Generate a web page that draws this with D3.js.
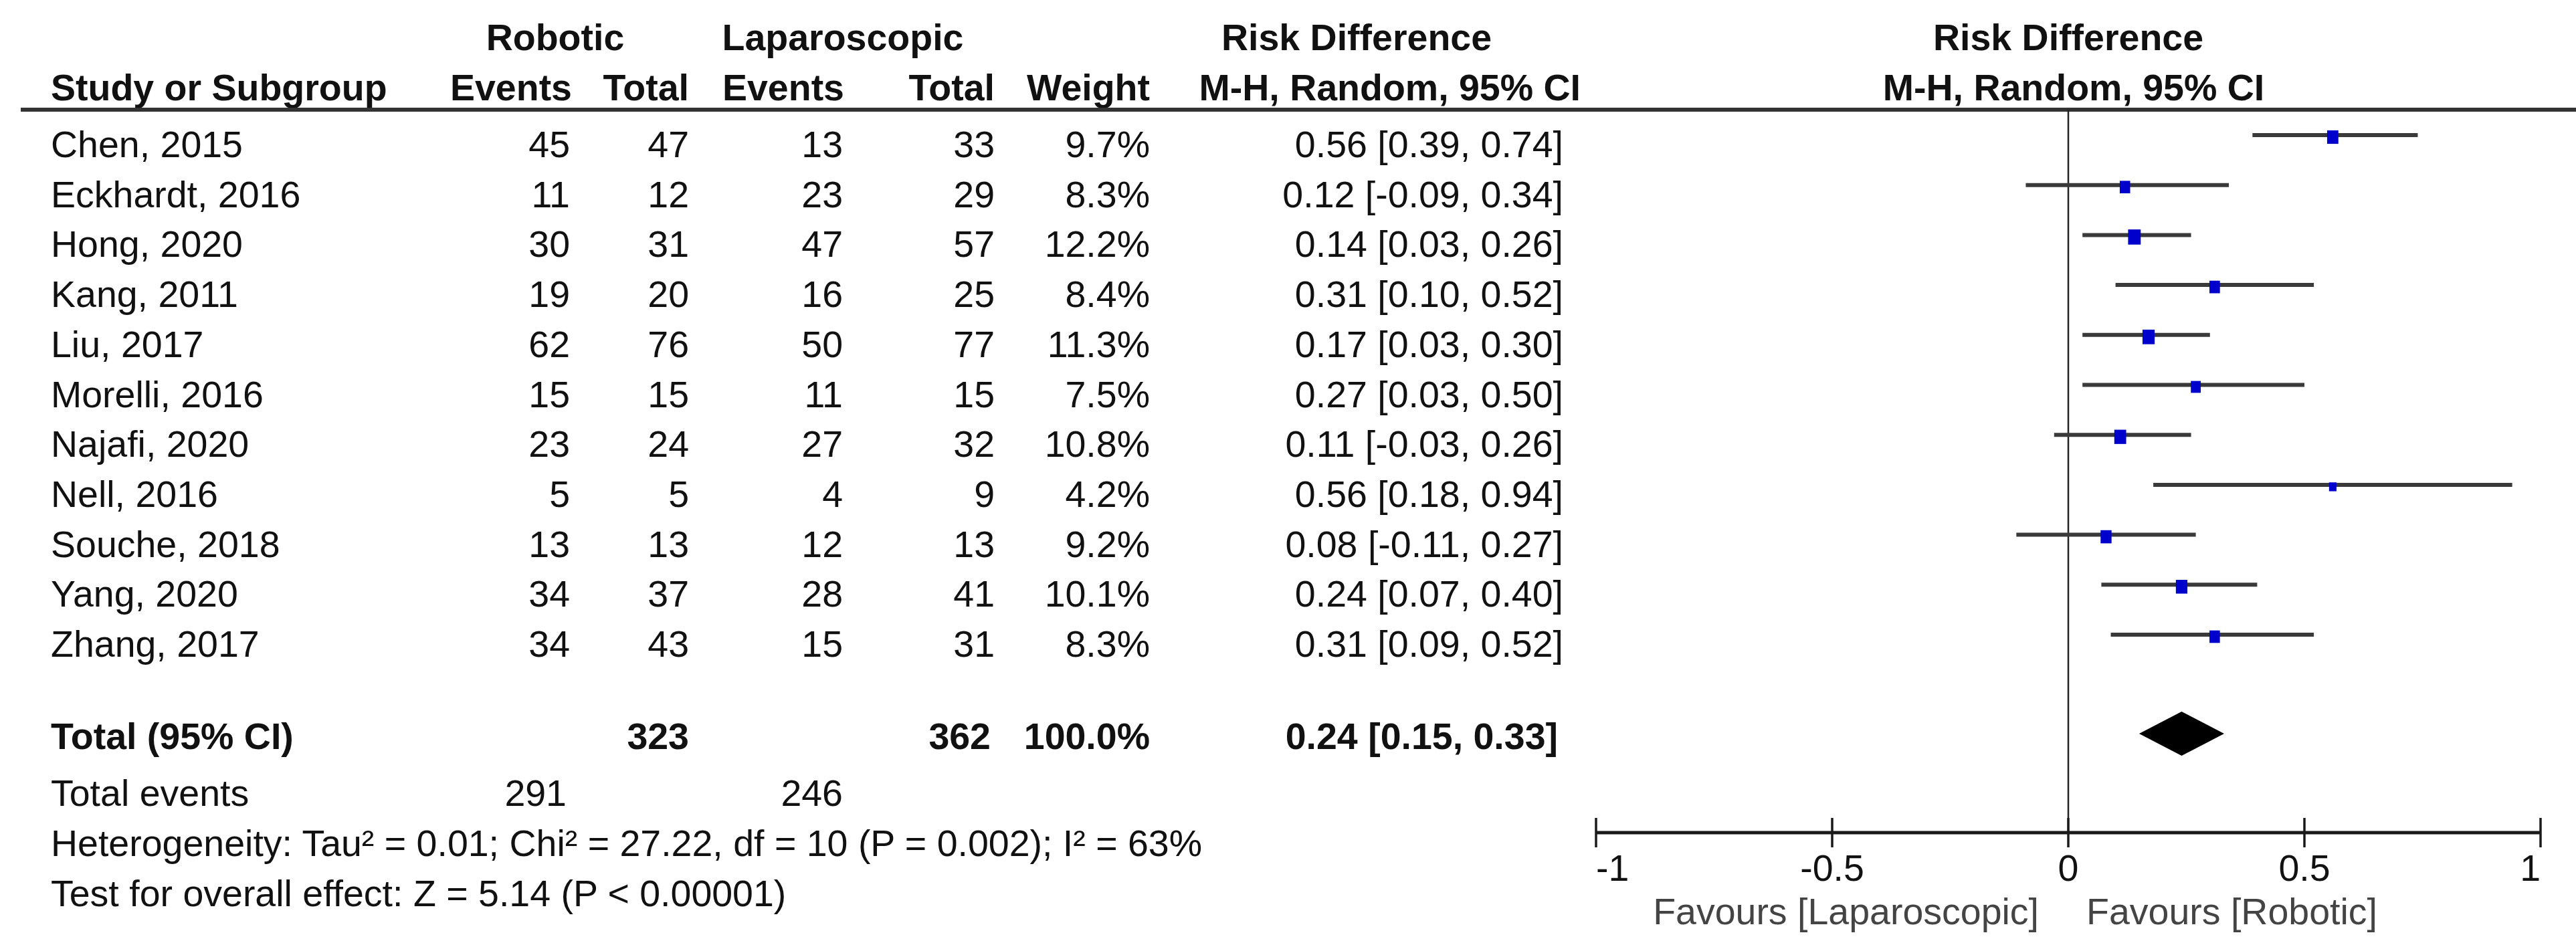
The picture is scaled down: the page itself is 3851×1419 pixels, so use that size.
<!DOCTYPE html>
<html lang="en">
<head>
  <meta charset="UTF-8" />
  <title>Forest plot: Robotic vs Laparoscopic</title>
  <style>
    html, body { margin: 0; padding: 0; background: #fff; }
    svg { display: block; }
    text { font-family: "Liberation Sans", Arial, sans-serif; font-size: 55.5px; fill: #111; }
    .bold { font-weight: bold; }
    .favours { fill: #444; }
  </style>
</head>
<body>
  <svg></svg>
  <script src="https://d3js.org/d3.v7.min.js"></script>
  <script>
    // study data
    const studies   = ["Chen, 2015", "Eckhardt, 2016", "Hong, 2020", "Kang, 2011", "Liu, 2017", "Morelli, 2016",
                       "Najafi, 2020", "Nell, 2016", "Souche, 2018", "Yang, 2020", "Zhang, 2017"];
    const robEvents = [45, 11, 30, 19, 62, 15, 23, 5, 13, 34, 34];
    const robTotal  = [47, 12, 31, 20, 76, 15, 24, 5, 13, 37, 43];
    const lapEvents = [13, 23, 47, 16, 50, 11, 27, 4, 12, 28, 15];
    const lapTotal  = [33, 29, 57, 25, 77, 15, 32, 9, 13, 41, 31];
    const weights   = [9.7, 8.3, 12.2, 8.4, 11.3, 7.5, 10.8, 4.2, 9.2, 10.1, 8.3];
    const rd        = [0.56, 0.12, 0.14, 0.31, 0.17, 0.27, 0.11, 0.56, 0.08, 0.24, 0.31];
    const ciLow     = [0.39, -0.09, 0.03, 0.10, 0.03, 0.03, -0.03, 0.18, -0.11, 0.07, 0.09];
    const ciHigh    = [0.74, 0.34, 0.26, 0.52, 0.30, 0.50, 0.26, 0.94, 0.27, 0.40, 0.52];

    // pooled result
    const pooled = { rd: 0.24, lo: 0.15, hi: 0.33, robTotal: 323, lapTotal: 362, robEvents: 291, lapEvents: 246 };
    const axisTicks = [-1, -0.5, 0, 0.5, 1];
    const heterogeneity = "Heterogeneity: Tau\u00B2 = 0.01; Chi\u00B2 = 27.22, df = 10 (P = 0.002); I\u00B2 = 63%";
    const overallEffect = "Test for overall effect: Z = 5.14 (P < 0.00001)";

    const W = 3851, H = 1419;
    const svg = d3.select("svg").attr("width", W).attr("height", H);

    // plain hyphen as in RevMan output
    const f2 = v => v.toFixed(2);
    const ciText = (m, l, h) => `${f2(m)} [${f2(l)}, ${f2(h)}]`;

    // columns (right edges, in px)
    const col = { study: 76, rEv: 852, rTot: 1030, lEv: 1260, lTot: 1487, wt: 1719, ci: 2337 };

    // rows
    const idx = d3.range(studies.length);
    const rowY = d3.scaleLinear().domain([0, studies.length - 1]).range([235, 982]);

    const x = d3.scaleLinear().domain([-1, 1]).range([2386, 3798]);

    // header
    const head = svg.append("g");
    const hdr = (t, xx, y, anchor) => head.append("text").attr("class", "bold")
      .attr("x", xx).attr("y", y).attr("text-anchor", anchor).text(t);
    hdr("Robotic", 830, 75, "middle");
    hdr("Laparoscopic", 1260, 75, "middle");
    hdr("Risk Difference", 2028, 75, "middle");
    hdr("Risk Difference", 3092, 75, "middle");
    hdr("Study or Subgroup", col.study, 150, "start");
    hdr("Events", col.rEv + 3, 150, "end");
    hdr("Total", col.rTot, 150, "end");
    hdr("Events", col.lEv + 2, 150, "end");
    hdr("Total", col.lTot, 150, "end");
    hdr("Weight", col.wt, 150, "end");
    hdr("M-H, Random, 95% CI", 2363, 150, "end");
    hdr("M-H, Random, 95% CI", 3100, 150, "middle");

    svg.append("line")
      .attr("x1", 31).attr("x2", W).attr("y1", 164).attr("y2", 164)
      .attr("stroke", "#333").attr("stroke-width", 6);

    // study rows text
    const rows = svg.append("g").selectAll("g").data(idx).join("g")
      .attr("transform", i => `translate(0,${rowY(i)})`);
    rows.append("text").attr("x", col.study).text(i => studies[i]);
    rows.append("text").attr("x", col.rEv).attr("text-anchor", "end").text(i => robEvents[i]);
    rows.append("text").attr("x", col.rTot).attr("text-anchor", "end").text(i => robTotal[i]);
    rows.append("text").attr("x", col.lEv).attr("text-anchor", "end").text(i => lapEvents[i]);
    rows.append("text").attr("x", col.lTot).attr("text-anchor", "end").text(i => lapTotal[i]);
    rows.append("text").attr("x", col.wt).attr("text-anchor", "end").text(i => weights[i].toFixed(1) + "%");
    rows.append("text").attr("x", col.ci).attr("text-anchor", "end").text(i => ciText(rd[i], ciLow[i], ciHigh[i]));

    // totals
    const totY = 1120;
    const tot = svg.append("g");
    tot.append("text").attr("class", "bold").attr("x", col.study).attr("y", totY).text("Total (95% CI)");
    tot.append("text").attr("class", "bold").attr("x", col.rTot).attr("y", totY).attr("text-anchor", "end").text(pooled.robTotal);
    tot.append("text").attr("class", "bold").attr("x", col.lTot - 6).attr("y", totY).attr("text-anchor", "end").text(pooled.lapTotal);
    tot.append("text").attr("class", "bold").attr("x", col.wt).attr("y", totY).attr("text-anchor", "end").text("100.0%");
    tot.append("text").attr("class", "bold").attr("x", col.ci - 8).attr("y", totY).attr("text-anchor", "end")
      .text(ciText(pooled.rd, pooled.lo, pooled.hi));
    tot.append("text").attr("x", col.study).attr("y", 1205).text("Total events");
    tot.append("text").attr("x", col.rEv - 5).attr("y", 1205).attr("text-anchor", "end").text(pooled.robEvents);
    tot.append("text").attr("x", col.lEv).attr("y", 1205).attr("text-anchor", "end").text(pooled.lapEvents);
    tot.append("text").attr("x", col.study).attr("y", 1280).text(heterogeneity);
    tot.append("text").attr("x", col.study).attr("y", 1355).text(overallEffect);

    // plot: zero line
    svg.append("line")
      .attr("x1", x(0)).attr("x2", x(0)).attr("y1", 164).attr("y2", 1245)
      .attr("stroke", "#222").attr("stroke-width", 2.5);

    // confidence intervals
    const ciOff = 33;
    svg.append("g").selectAll("line").data(idx).join("line")
      .attr("x1", i => x(ciLow[i])).attr("x2", i => x(ciHigh[i]))
      .attr("y1", i => rowY(i) - ciOff).attr("y2", i => rowY(i) - ciOff)
      .attr("stroke", "#3a3a3a").attr("stroke-width", 6);

    // weight squares
    const sz = w => 5.4 * Math.sqrt(w);
    svg.append("g").selectAll("rect").data(idx).join("rect")
      .attr("x", i => x(rd[i]) - sz(weights[i]) / 2)
      .attr("y", i => rowY(i) - ciOff - sz(weights[i]) * 0.6 + 3)
      .attr("width", i => sz(weights[i]))
      .attr("height", i => sz(weights[i]) * 1.2)
      .attr("fill", "#0000cc");

    // pooled diamond
    const dy = 1097, dh = 33;
    svg.append("path")
      .attr("d", `M${x(pooled.lo)},${dy} L${x(pooled.rd)},${dy - dh} L${x(pooled.hi)},${dy} L${x(pooled.rd)},${dy + dh} Z`)
      .attr("fill", "#000");

    // x axis
    const axisY = 1245;
    const ax = svg.append("g");
    ax.append("line").attr("x1", x(-1)).attr("x2", x(1)).attr("y1", axisY).attr("y2", axisY)
      .attr("stroke", "#1a1a1a").attr("stroke-width", 5);
    ax.selectAll("line.tick").data(axisTicks).join("line").attr("class", "tick")
      .attr("x1", d => x(d)).attr("x2", d => x(d)).attr("y1", axisY - 22).attr("y2", axisY + 22)
      .attr("stroke", "#1a1a1a").attr("stroke-width", 3.5);
    ax.selectAll("text").data(axisTicks).join("text")
      .attr("x", d => x(d)).attr("y", 1317)
      .attr("text-anchor", d => d === -1 ? "start" : d === 1 ? "end" : "middle")
      .text(d => String(d));

    svg.append("text").attr("class", "favours").attr("x", 3048).attr("y", 1382).attr("text-anchor", "end")
      .text("Favours [Laparoscopic]");
    svg.append("text").attr("class", "favours").attr("x", 3119).attr("y", 1382)
      .text("Favours [Robotic]");
  </script>
</body>
</html>
